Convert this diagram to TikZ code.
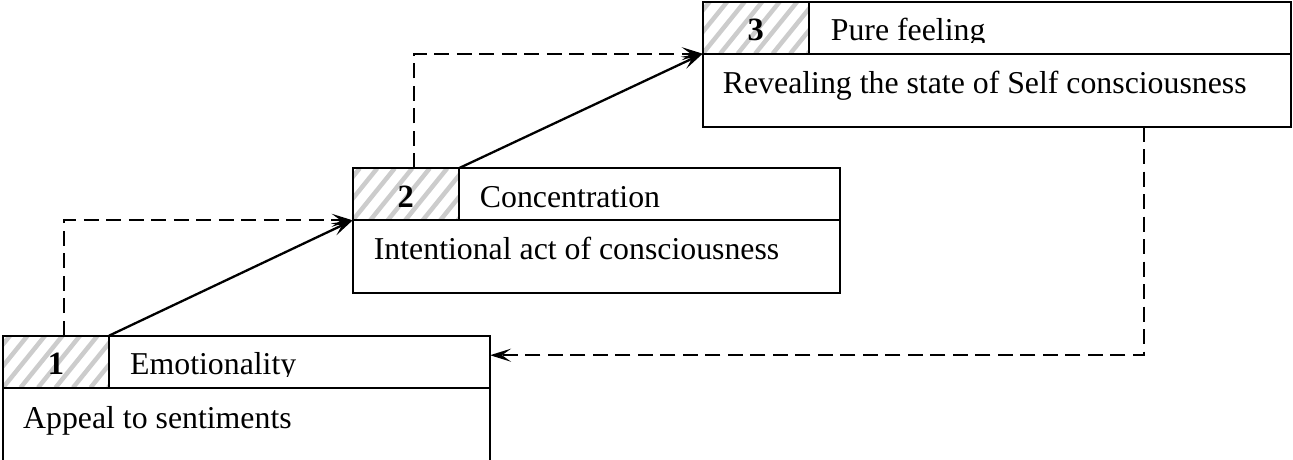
\documentclass[tikz,border=0pt]{standalone}
\usepackage{fontspec}
\setmainfont{Liberation Serif}
\usetikzlibrary{calc,arrows.meta}
\pgfdeclarelayer{background}
\pgfsetlayers{background,main}
\begin{document}
\begin{tikzpicture}[x=1pt,y=-1pt,
  font=\fontsize{31.8}{38}\selectfont,
  frame/.style={draw, line width=2.2pt, rectangle, inner sep=0pt, outer sep=0pt, anchor=north west},
  numcell/.style={frame, minimum width=106pt, minimum height=52pt},
  headcell/.style={frame, minimum height=52pt},
  bodycell/.style={frame, minimum height=73pt},
  label/.style={anchor=base west, inner sep=0pt},
  numlabel/.style={anchor=base, inner sep=0pt, font=\fontsize{32.5}{38}\selectfont\bfseries},
  stripe/.style={line width=4.5pt, color=black!20},
  tip/.style={-{Stealth[length=21pt,width=13pt,inset=9pt]}},
  solidarrow/.style={line width=2.3pt, tip},
  dasharrow/.style={line width=2.3pt, dash pattern=on 15pt off 7.5pt, tip},
]
\useasboundingbox (0,0) rectangle (1293,459);

% stage 1
\node[numcell] (h1) at (3,335.7) {};
\node[headcell, minimum width=381pt] (t1) at (h1.north east) {};
\node[bodycell, minimum height=76pt, minimum width=487pt] (b1) at (h1.south west) {};
% stage 2
\node[numcell] (h2) at (352.7,168.3) {};
\node[headcell, minimum width=381pt] (t2) at (h2.north east) {};
\node[bodycell, minimum width=487pt] (b2) at (h2.south west) {};
% stage 3
\node[numcell] (h3) at (702.7,1.7) {};
\node[headcell, minimum width=482pt] (t3) at (h3.north east) {};
\node[bodycell, minimum width=588pt] (b3) at (h3.south west) {};

% hatched number cells
\begin{pgfonlayer}{background}
  \foreach \c in {h1,h2,h3} {
    \begin{scope}
      \clip (\c.south west) rectangle (\c.north east);
      \foreach \k in {-4,...,8}
        \draw[stripe] ($(\c.south west)+(\k*17.5,0)$) -- ++(42,-52);
    \end{scope}
  }
\end{pgfonlayer}

% numbers
\node[numlabel] (n1) at ($(h1.north)+(0,39)$) {1};
\node[numlabel] (n2) at ($(h2.north)+(0,39)$) {2};
\node[numlabel] (n3) at ($(h3.north)+(0,39)$) {3};

% stage titles (cut at the baseline)
\begin{scope}
  \clip (t1.north west) rectangle ($(t1.north east)+(0,41)$);
  \node[label] (l1) at ($(t1.north west)+(21,39)$) {Emotionality};
\end{scope}
\begin{scope}
  \clip (t2.north west) rectangle ($(t2.north east)+(0,41)$);
  \node[label] (l2) at ($(t2.north west)+(21,39)$) {Concentration};
\end{scope}
\begin{scope}
  \clip (t3.north west) rectangle ($(t3.north east)+(0,41)$);
  \node[label] (l3) at ($(t3.north west)+(22,39)$) {Pure feeling};
\end{scope}

% descriptions
\node[label] (d1) at ($(b1.north west)+(20,41)$) {Appeal to sentiments};
\node[label] (d2) at ($(b2.north west)+(21,39.5)$) {Intentional act of consciousness};
\node[label] (d3) at ($(b3.north west)+(20,40)$) {Revealing the state of Self consciousness};

% transitions
\draw[solidarrow] (h1.north east) -- (b2.north west);
\draw[solidarrow] (h2.north east) -- (b3.north west);

\coordinate (s1) at ($(h1.north west)+(61.3,0)$);
\coordinate (s2) at ($(h2.north west)+(61.3,0)$);
\coordinate (s3) at ($(b3.south west)+(441.6,0)$);
\coordinate (e3) at ($(t1.north east)+(0,19.5)$);
\draw[dasharrow] (s1) |- (b2.north west);
\draw[dasharrow] (s2) |- (b3.north west);
\draw[dasharrow] (s3) |- (e3);
\end{tikzpicture}
\end{document}
